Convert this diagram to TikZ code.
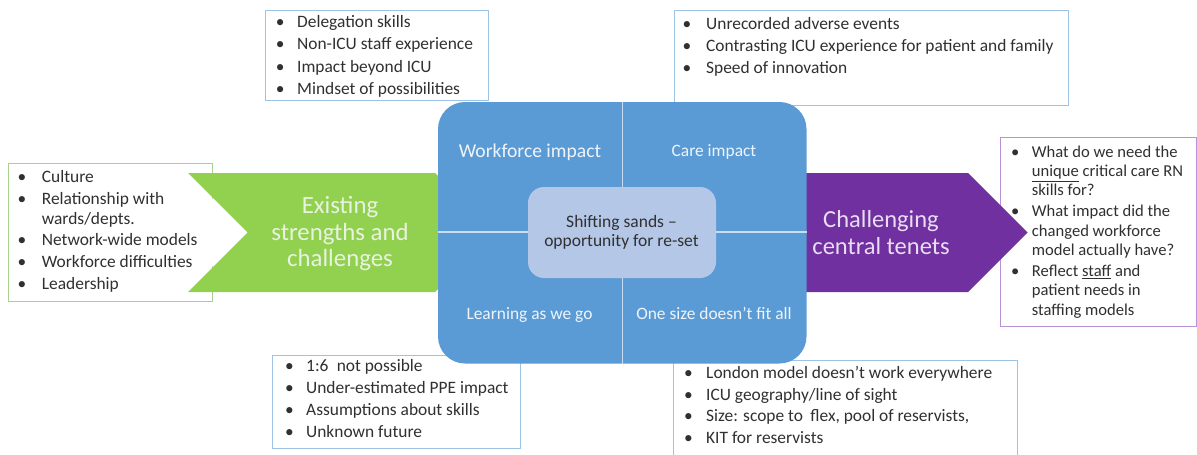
\documentclass[tikz,border=0pt]{standalone}
\usepackage{fontspec}
\setmainfont{Carlito}
\definecolor{cblue}{HTML}{5B9BD5}
\definecolor{cinner}{HTML}{B4C7E7}
\definecolor{cgreen}{HTML}{92D050}
\definecolor{cpurple}{HTML}{7030A0}
\definecolor{bblue}{HTML}{9DC3E6}
\definecolor{bgreen}{HTML}{A9D18E}
\definecolor{bpurple}{HTML}{B991D9}
\definecolor{txtgray}{HTML}{303030}
\definecolor{gtext}{HTML}{E8F3DF}
\definecolor{ptext}{HTML}{E8DDF2}
\definecolor{qtext}{HTML}{EEF4FB}
\definecolor{divcol}{HTML}{C9DCF2}
\newcommand\bx[2]{\makebox[#1pt][l]{\textbullet}#2}
\newcommand\cx[2]{\hspace*{#1pt}#2}
\begin{document}
\begin{tikzpicture}[x=1pt,y=-1pt,
  lst/.style={anchor=base west, inner sep=0pt, text=txtgray, font=\fontsize{17.4}{21}\selectfont},
  plst/.style={lst, font=\fontsize{16.6}{20}\selectfont},
  frameblue/.style={draw=bblue, line width=1pt},
  framegreen/.style={draw=bgreen, line width=1pt},
  framepurple/.style={draw=bpurple, line width=1pt},
  quad/.style={anchor=base, inner sep=0pt, text=qtext, font=\fontsize{17.4}{21}\selectfont},
  ctr/.style={anchor=base, inner sep=0pt, text=txtgray, font=\fontsize{17.5}{21}\selectfont},
  gtitle/.style={anchor=base, inner sep=0pt, text=gtext, font=\fontsize{24.8}{27}\selectfont},
  ptitle/.style={anchor=base, inner sep=0pt, text=ptext, font=\fontsize{24.5}{27}\selectfont},
  divline/.style={draw=divcol, line width=1.3pt}]
\useasboundingbox (0,0) rectangle (1197,455);
\clip (0,0) rectangle (1197,455);
\fill[white] (0,0) rectangle (1197,455);

% frames of the text boxes
\draw[frameblue] (265.5,10) rectangle (488,100);
\draw[frameblue] (674,10) rectangle (1068.5,105);
\draw[frameblue] (272.5,355) rectangle (520,448);
\draw[frameblue] (673.5,360) rectangle (1017.5,470);
\draw[framegreen] (8.5,163.5) rectangle (212.5,301.5);
\draw[framepurple] (1000.5,137.5) rectangle (1196.5,326.5);

% arrows
\fill[white] (186,173) -- (247,232.5) -- (186,292) -- cycle;
\fill[cgreen] (188,173) -- (435,173) -- (494.5,232.5) -- (435,292) -- (188,292) -- (247.5,232.5) -- cycle;
\fill[cpurple] (740,173) -- (968,173) -- (1027.5,232.5) -- (968,292) -- (740,292) -- (799.5,232.5) -- cycle;

% central block
\fill[cblue, rounded corners=27pt] (438,102) rectangle (806.5,363.5);
\draw[divline] (622.5,102) -- (622.5,363.5);
\draw[divline] (438,232) -- (806.5,232);
\fill[cinner, rounded corners=16pt] (528,187) rectangle (716,278);

% quadrant labels
\node[quad, font=\fontsize{19.6}{22}\selectfont] (q1) at (530,157.7) {Workforce impact};
\node[quad] (q2) at (714,156) {Care impact};
\node[quad] (q3) at (529.5,319) {Learning as we go};
\node[quad] (q4) at (714,319) {One size doesn’t fit all};
\node[ctr] (c1) at (621.5,227) {Shifting sands –};
\node[ctr] (c2) at (621.5,246.5) {opportunity for re-set};

% arrow titles
\node[gtitle] (g1) at (340,213) {Existing};
\node[gtitle] (g2) at (340,240) {strengths and};
\node[gtitle] (g3) at (340,266.5) {challenges};
\node[ptitle] (p1) at (881,227) {Challenging};
\node[ptitle] (p2) at (881,254) {central tenets};

% top-left list
\node[lst] (tl1) at (275.6,27.3) {\bx{21.4}{Delegation skills}};
\node[lst] (tl2) at (275.6,49.7) {\bx{21.4}{Non-ICU staff experience}};
\node[lst] (tl3) at (275.6,72) {\bx{21.4}{Impact beyond ICU}};
\node[lst] (tl4) at (275.6,94.3) {\bx{21.4}{Mindset of possibilities}};

% top-right list
\node[lst] (tr1) at (682.3,29.5) {\bx{23.7}{Unrecorded adverse events}};
\node[lst] (tr2) at (682.3,51.5) {\bx{23.7}{Contrasting ICU experience for patient and family}};
\node[lst] (tr3) at (682.3,73.5) {\bx{23.7}{Speed of innovation}};

% left list
\node[lst] (l1) at (17.3,182) {\bx{24.4}{Culture}};
\node[lst] (l2) at (17.3,204) {\bx{24.4}{Relationship with}};
\node[lst] (l3) at (17.3,224) {\cx{24.4}{wards/depts.}};
\node[lst] (l4) at (17.3,245.5) {\bx{24.4}{Network-wide models}};
\node[lst] (l5) at (17.3,267) {\bx{24.4}{Workforce difficulties}};
\node[lst] (l6) at (17.3,289) {\bx{24.4}{Leadership}};

% right (purple) list
\node[plst] (r1) at (1010.9,157.3) {\bx{20.8}{What do we need the}};
\node[plst] (r2) at (1010.9,176.7) {\cx{20.8}{\underline{unique} critical care RN}};
\node[plst] (r3) at (1010.9,195.7) {\cx{20.8}{skills for?}};
\node[plst] (r4) at (1010.9,216) {\bx{20.8}{What impact did the}};
\node[plst] (r5) at (1010.9,236) {\cx{20.8}{changed workforce}};
\node[plst] (r6) at (1010.9,255.7) {\cx{20.8}{model actually have?}};
\node[plst] (r7) at (1010.9,276.7) {\bx{20.8}{Reflect \underline{staff} and}};
\node[plst] (r8) at (1010.9,295.7) {\cx{20.8}{patient needs in}};
\node[plst] (r9) at (1010.9,315) {\cx{20.8}{staffing models}};

% bottom-left list
\node[lst] (bl1) at (285,371.5) {\bx{21}{1:6\hspace{0.25em} not possible}};
\node[lst] (bl2) at (285,393.5) {\bx{21}{Under-estimated PPE impact}};
\node[lst] (bl3) at (285,415.5) {\bx{21}{Assumptions about skills}};
\node[lst] (bl4) at (285,437.5) {\bx{21}{Unknown future}};

% bottom-right list
\node[lst] (br1) at (684,378.3) {\bx{22}{London model doesn’t work everywhere}};
\node[lst] (br2) at (684,400) {\bx{22}{ICU geography/line of sight}};
\node[lst] (br3) at (684,421.7) {\bx{22}{Size: scope to\hspace{0.2em} flex, pool of reservists,}};
\node[lst] (br4) at (684,443.3) {\bx{22}{KIT for reservists}};
\end{tikzpicture}
\end{document}
